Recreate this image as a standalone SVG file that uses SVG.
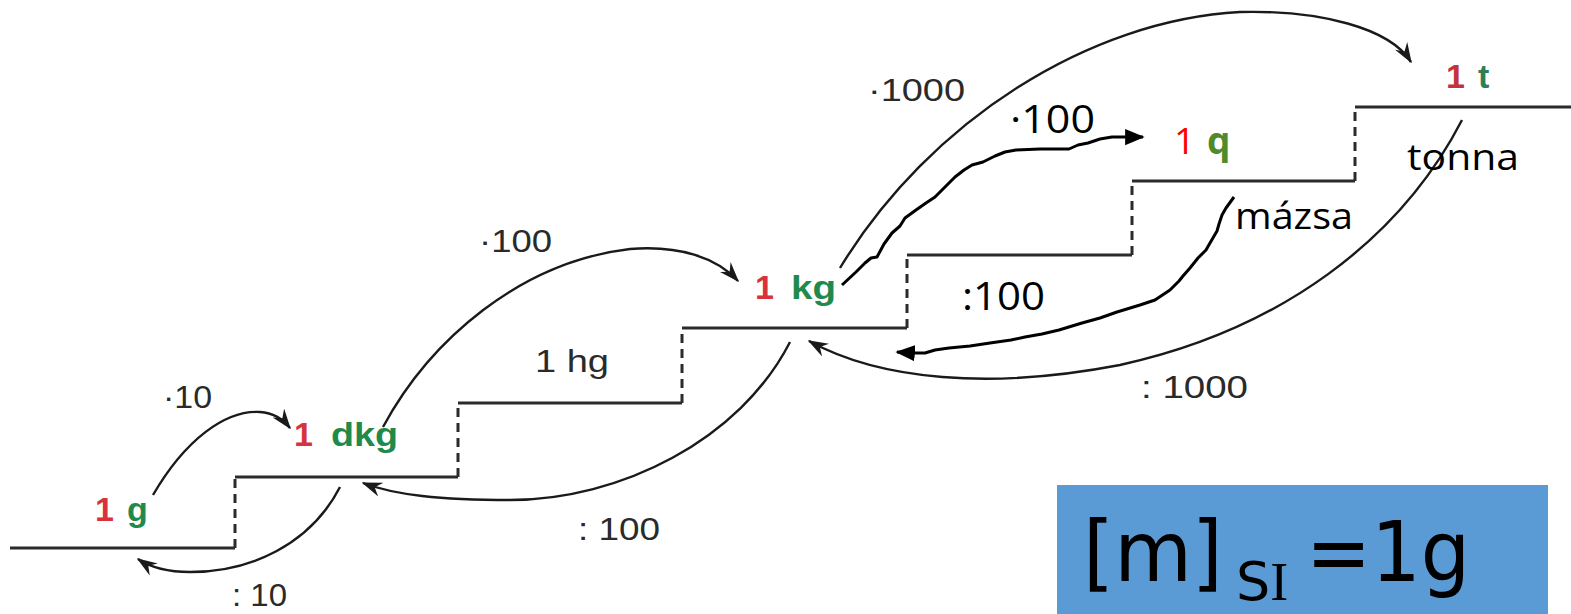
<svg xmlns="http://www.w3.org/2000/svg" width="1571" height="614" viewBox="0 0 1571 614">
<style>
.step{stroke:#2b2b2b;stroke-width:3;fill:none}
.dash{stroke:#2b2b2b;stroke-width:3;fill:none;stroke-dasharray:9 6}
.arc{stroke:#1a1a1a;stroke-width:2.4;fill:none;marker-end:url(#ah)}
.hand{stroke:#000;stroke-width:3;fill:none;stroke-linejoin:round;marker-end:url(#hh)}
.lb{font-family:"Liberation Sans",Arial,sans-serif;font-weight:bold;font-size:34px}
.r{fill:#d8323c}
.g{fill:#1f8a4c}
.op{font-family:"Liberation Sans",Arial,sans-serif;font-size:32px;fill:#2a2a2a}
.cal{font-family:"Open Sans","Liberation Sans",sans-serif;fill:#000}
</style>
<defs>
<marker id="ah" viewBox="0 0 14 10" refX="13" refY="5" markerWidth="8.5" markerHeight="6.2" orient="auto" markerUnits="strokeWidth">
<path d="M0,0 L14,5 L0,10 L4.5,5 z" fill="#1a1a1a"/>
</marker>
<marker id="hh" viewBox="0 0 12 10" refX="11" refY="5" markerWidth="6.5" markerHeight="6" orient="auto" markerUnits="strokeWidth">
<path d="M0,0 L12,5 L0,10 z" fill="#000"/>
</marker>
</defs>
<rect width="1571" height="614" fill="#fff"/>

<g id="stairs">
<path class="step" d="M10,548 H235 M235,477 H458 M458,403 H682 M682,328 H907 M907,255 H1132 M1132,181 H1355 M1355,107 H1571"/>
<path class="dash" d="M235,548 V477 M458,477 V403 M682,403 V328 M907,328 V255 M1132,255 V181 M1355,181 V107"/>
</g>

<g id="connectors">
<path class="arc" d="M153,495 C185,440 225,410 260,412 C274,413 283,419 290,428"/>
<path class="arc" d="M340,487 C310,545 250,572 190,572 C165,572 150,567 138,559"/>
<path class="arc" d="M383,427 C430,340 520,262 630,249 C680,245 717,258 738,281"/>
<path class="arc" d="M790,342 C740,440 620,500 510,500 C440,500 395,495 363,483"/>
<path class="arc" d="M840,268 C930,120 1090,20 1240,12 C1320,10 1390,28 1411,62"/>
<path class="arc" d="M1462,120 C1400,240 1280,330 1120,365 C990,390 880,380 809,341"/>
<path class="hand" d="M842,285 L856,272 L865,263 L871,258 L877,257 L884,244 L892,233 L900,226 L905,218 L916,210 L926,203 L935,197 L946,186 L955,177 L964,170 L972,165 L983,162 L995,156 L1005,152 L1016,150 L1040,149 L1058,149 L1069,149 L1078,145 L1088,143 L1100,139 L1112,137 L1130,137 L1143,137"/>
<path class="hand" d="M1234,197 L1226,208 L1222,215 L1219,224 L1217,231 L1210,243 L1206,250 L1198,258 L1190,268 L1183,276 L1179,281 L1170,290 L1155,300 L1140,305 L1117,312 L1100,318 L1082,323 L1059,330 L1042,334 L1025,337 L1011,340 L990,343 L970,346 L949,348 L935,350 L925,353 L912,353 L897,352"/>
</g>

<g id="n-g"><text class="lb" x="95" y="521"><tspan class="r">1</tspan><tspan class="g" x="127">g</tspan></text></g>
<g id="n-dkg"><text class="lb" x="294" y="446"><tspan class="r">1</tspan><tspan class="g" x="331" textLength="67" lengthAdjust="spacingAndGlyphs">dkg</tspan></text></g>
<g id="n-hg"><text class="op" x="535" y="372" textLength="74" lengthAdjust="spacingAndGlyphs" font-size="33">1 hg</text></g>
<g id="n-kg"><text class="lb" x="755" y="299"><tspan class="r">1</tspan><tspan class="g" x="791" textLength="45" lengthAdjust="spacingAndGlyphs">kg</tspan></text></g>
<g id="n-t"><text class="lb" x="1446" y="88" font-size="30"><tspan fill="#c2343a">1</tspan><tspan fill="#2d7f5c" x="1478">t</tspan></text></g>
<g id="n-q"><text class="cal" x="1174" y="154" font-size="37"><tspan fill="#ff0000">1</tspan><tspan fill="#4f8a2c" font-weight="bold" x="1207">q</tspan></text></g>

<g id="labels">
<text class="op" x="163" y="408" textLength="49" lengthAdjust="spacingAndGlyphs">·10</text>
<text class="op" x="232" y="606" textLength="55" lengthAdjust="spacingAndGlyphs">: 10</text>
<text class="op" x="479" y="252" textLength="73" lengthAdjust="spacingAndGlyphs">·100</text>
<text class="op" x="578" y="540" textLength="82" lengthAdjust="spacingAndGlyphs">: 100</text>
<text class="op" x="868" y="101" textLength="97" lengthAdjust="spacingAndGlyphs">·1000</text>
<text class="op" x="1141" y="398" textLength="107" lengthAdjust="spacingAndGlyphs">: 1000</text>
<text class="cal" x="1010" y="133" font-size="38" textLength="85" lengthAdjust="spacingAndGlyphs">·100</text>
<text class="cal" x="962" y="310" font-size="38" textLength="83" lengthAdjust="spacingAndGlyphs">:100</text>
<text class="cal" x="1407" y="170" font-size="37" textLength="112" lengthAdjust="spacingAndGlyphs">tonna</text>
<text class="cal" x="1235" y="229" font-size="37" textLength="118" lengthAdjust="spacingAndGlyphs">mázsa</text>
</g>

<g id="si-box">
<rect x="1057" y="485" width="491" height="129" fill="#5b9bd5"/>
<text font-family="'DejaVu Sans',sans-serif" font-size="84" fill="#000" y="581"><tspan x="1083" textLength="140" lengthAdjust="spacingAndGlyphs">[m]</tspan><tspan x="1236" y="600" font-size="54">S</tspan><tspan font-family="'Liberation Serif',serif" y="600" font-size="54">I</tspan><tspan x="1306" y="581" textLength="164" lengthAdjust="spacingAndGlyphs">=1g</tspan></text>
</g>
</svg>
